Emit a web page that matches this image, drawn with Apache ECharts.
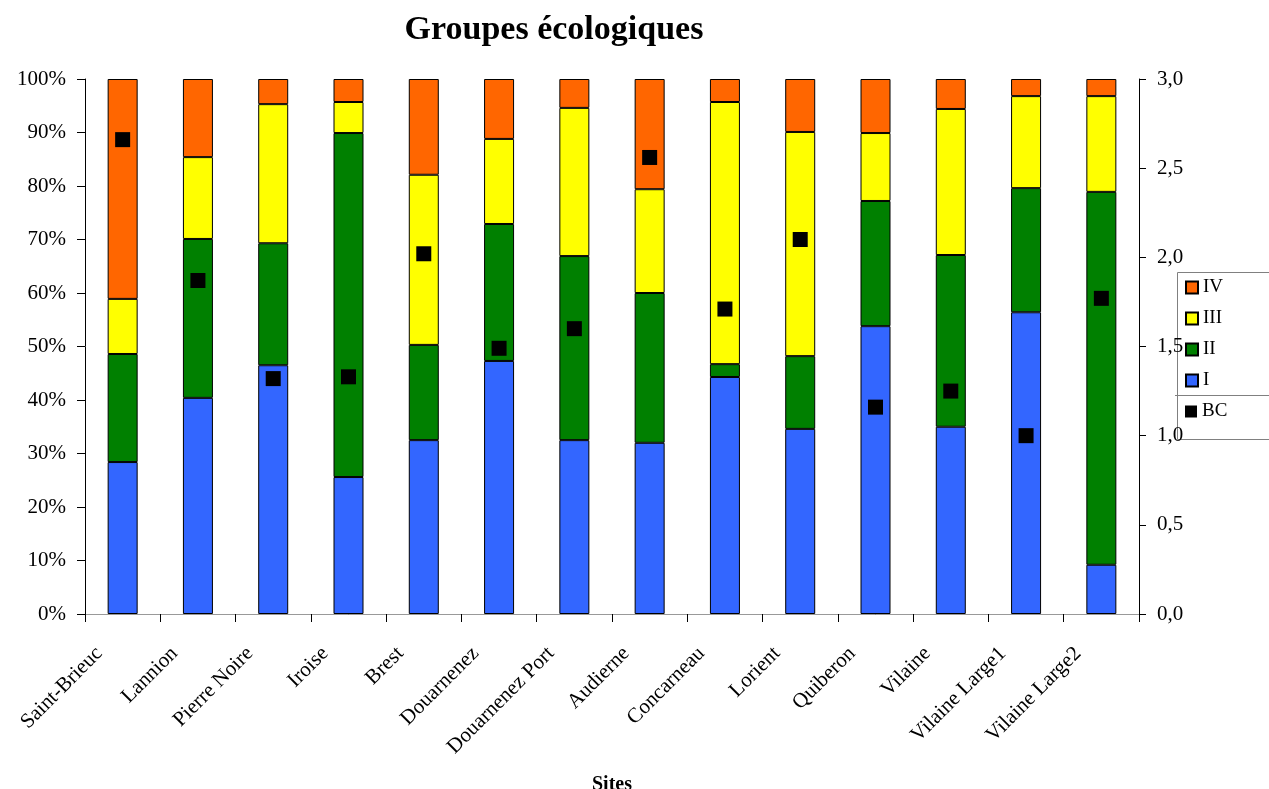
<!DOCTYPE html>
<html>
<head>
<meta charset="utf-8">
<script src="https://cdn.jsdelivr.net/npm/echarts@6/dist/echarts.min.js"></script>
<style>html,body{margin:0;padding:0;background:#fff;}#c{width:1269px;height:789px;}</style>
</head>
<body>
<div id="c"></div>
<script>
const sites = ['Saint-Brieuc','Lannion','Pierre Noire','Iroise','Brest','Douarnenez','Douarnenez Port','Audierne','Concarneau','Lorient','Quiberon','Vilaine','Vilaine Large1','Vilaine Large2'];
const groupI   = [28.4, 40.4, 46.5, 25.6, 32.5, 47.3, 32.5, 32.0, 44.3, 34.6, 53.8, 35.0, 56.4,  9.2];
const groupII  = [20.2, 29.7, 22.8, 64.3, 17.8, 25.6, 34.4, 28.0,  2.4, 13.6, 23.4, 32.1, 23.2, 69.7];
const groupIII = [10.3, 15.3, 26.0,  5.8, 31.8, 15.9, 27.7, 19.4, 49.0, 41.9, 12.7, 27.3, 17.2, 17.9];
const groupIV  = [41.1, 14.6,  4.7,  4.3, 17.9, 11.2,  5.4, 20.6,  4.3,  9.9, 10.1,  5.6,  3.2,  3.2];
const bc       = [2.66, 1.87, 1.32, 1.33, 2.02, 1.49, 1.60, 2.56, 1.71, 2.10, 1.16, 1.25, 1.00, 1.77];

const FONT = '"Liberation Serif", "DejaVu Serif", serif';
const chart = echarts.init(document.getElementById('c'));
function barSeries(name, data, color) {
  return {
    name, type: 'bar', stack: 'g', data, barWidth: 30,
    itemStyle: { color, borderColor: '#000', borderWidth: 1 }
  };
}
chart.setOption({
  animation: false,
  backgroundColor: '#fff',
  textStyle: { fontFamily: FONT },
  title: {
    text: 'Groupes écologiques', left: 549, top: 8, textAlign: 'center',
    textStyle: { fontFamily: FONT, fontSize: 34, fontWeight: 'bold', color: '#000' }
  },
  grid: { left: 85, right: 130, top: 79, bottom: 175, outerBoundsMode: 'none', containLabel: false },
  legend: [{
    data: ['IV', 'III', 'II', 'I'], orient: 'vertical', left: 1180, top: 273,
    itemWidth: 12, itemHeight: 12, itemGap: 12, icon: 'rect',
    textStyle: { fontFamily: FONT, fontSize: 19, color: '#000', lineHeight: 18 }
  }, {
    data: ['BC'], orient: 'vertical', left: 1180, top: 397,
    itemWidth: 12, itemHeight: 12, icon: 'rect',
    textStyle: { fontFamily: FONT, fontSize: 19, color: '#000', lineHeight: 18 }
  }],
  graphic: [
    { type: 'rect', left: 1175, top: 270, shape: { width: 100, height: 167 },
      style: { fill: 'none', stroke: '#808080', lineWidth: 1 } },
    { type: 'line', shape: { x1: 1175, y1: 395.5, x2: 1269, y2: 395.5 },
      style: { stroke: '#808080', lineWidth: 1 } }
  ],
  xAxis: [{
    type: 'category', data: sites, position: 'bottom',
    name: 'Sites', nameLocation: 'middle', nameGap: 161,
    nameTextStyle: { fontFamily: FONT, fontSize: 20, fontWeight: 'bold', color: '#000' },
    axisLine: { lineStyle: { color: '#000' } },
    axisTick: { show: true, length: 8, alignWithLabel: false, lineStyle: { color: '#000' } },
    axisLabel: {
      rotate: 45, interval: 0, margin: 13, fontSize: 21, fontFamily: FONT, color: '#000',
      padding: [0, 33, 0, 0]
    }
  }, {
    type: 'category', data: sites, position: 'top',
    axisLine: { show: true, lineStyle: { color: '#999' } },
    axisTick: { show: false }, axisLabel: { show: false }
  }],
  yAxis: [{
    type: 'value', min: 0, max: 100, interval: 10,
    axisLine: { show: true, lineStyle: { color: '#000' } },
    axisTick: { show: true, length: 8, lineStyle: { color: '#000' } },
    splitLine: { show: false },
    axisLabel: { formatter: '{value}%', fontSize: 21, fontFamily: FONT, color: '#000', margin: 19 }
  }, {
    type: 'value', min: 0, max: 3, interval: 0.5, position: 'right',
    axisLine: { show: true, lineStyle: { color: '#000' } },
    axisTick: { show: true, length: 7, lineStyle: { color: '#000' } },
    splitLine: { show: false },
    axisLabel: {
      formatter: v => v.toFixed(1).replace('.', ','),
      fontSize: 21, fontFamily: FONT, color: '#000', margin: 18
    }
  }],
  series: [
    barSeries('I', groupI, '#3366FF'),
    barSeries('II', groupII, '#008000'),
    barSeries('III', groupIII, '#FFFF00'),
    barSeries('IV', groupIV, '#FF6600'),
    {
      name: 'BC', type: 'scatter', yAxisIndex: 1, data: bc,
      symbol: 'rect', symbolSize: 15, itemStyle: { color: '#000', opacity: 1 }, z: 5
    }
  ]
});
</script>
</body>
</html>
